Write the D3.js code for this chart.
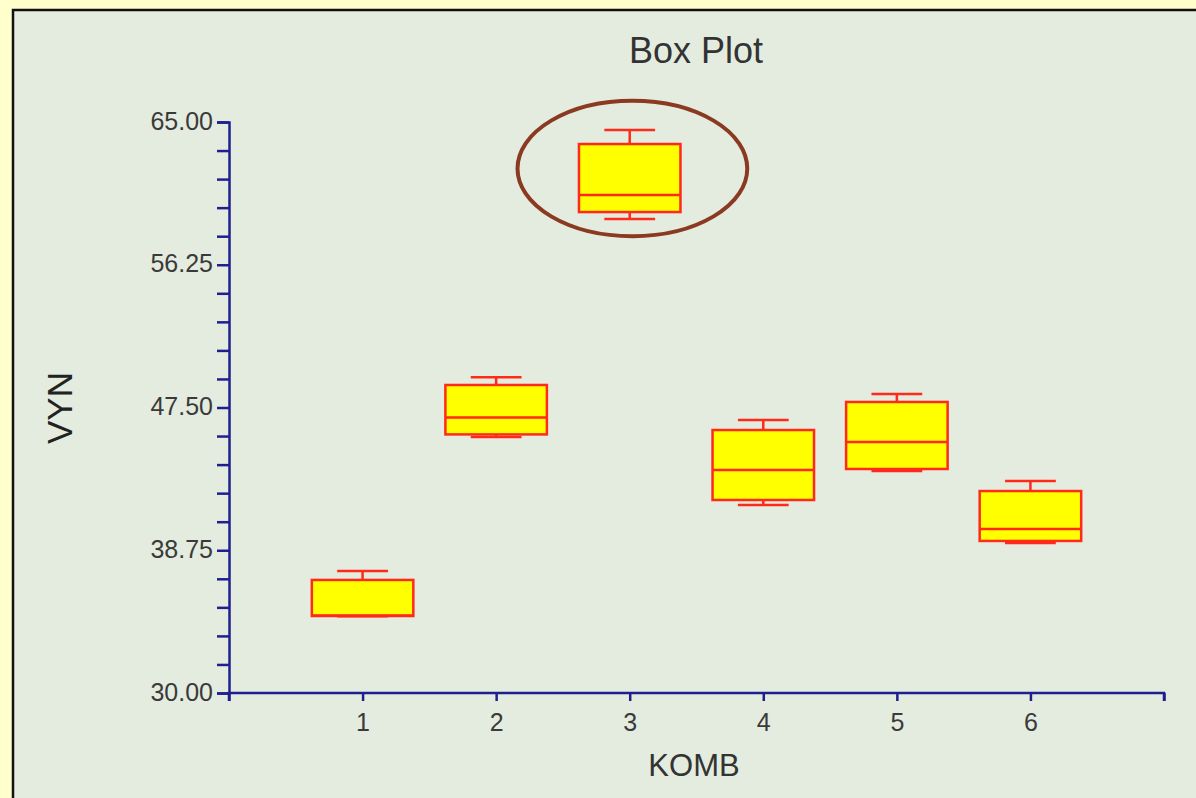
<!DOCTYPE html>
<html>
<head>
<meta charset="utf-8">
<script src="https://cdn.jsdelivr.net/npm/d3@7"></script>
<style>
  body { margin: 0; background: #ffffcc; }
  svg { display: block; }
</style>
</head>
<body>
<div id="chart"></div>
<script>
// data
const groups = [1, 2, 3, 4, 5, 6];
const whiskerHigh = [37.48, 49.35, 64.51, 46.73, 48.33, 43.00];
const q3 = [36.93, 48.88, 63.65, 46.12, 47.84, 42.38];
const median = [34.75, 46.88, 60.53, 43.67, 45.38, 40.05];
const q1 = [34.72, 45.85, 59.48, 41.83, 43.73, 39.32];
const whiskerLow = [34.70, 45.69, 59.05, 41.52, 43.61, 39.19];
const yTicks = [30.00, 38.75, 47.50, 56.25, 65.00];

const data = groups.map((g, i) => ({
  g, hi: whiskerHigh[i], q3: q3[i], med: median[i], q1: q1[i], lo: whiskerLow[i]
}));

const W = 1196, H = 798;
const margin = {top: 122, right: 32, bottom: 105, left: 229};

const svg = d3.select("#chart").append("svg")
    .attr("width", W)
    .attr("height", H);

// panel
svg.append("rect")
    .attr("x", 13).attr("y", 10)
    .attr("width", W).attr("height", H)
    .attr("fill", "#e4ecdf")
    .attr("stroke", "#111")
    .attr("stroke-width", 2.5);

const x = d3.scaleLinear()
    .domain([0, 7])
    .range([margin.left, W - margin.right]);

const y = d3.scaleLinear()
    .domain([30, 65])
    .range([H - margin.bottom, margin.top]);

const axisColor = "#1f1f8f";
const font = "Liberation Sans, Arial, sans-serif";

// y axis with minor ticks
const yAxis = svg.append("g")
    .attr("transform", `translate(${margin.left},0)`)
    .call(d3.axisLeft(y)
        .tickValues(d3.range(30, 65.001, 1.75))
        .tickSize(12)
        .tickPadding(4)
        .tickFormat(d => yTicks.some(t => Math.abs(t - d) < 1e-6) ? d3.format(".2f")(d) : ""));

// x axis
const xAxis = svg.append("g")
    .attr("transform", `translate(0,${H - margin.bottom})`)
    .call(d3.axisBottom(x)
        .tickValues(d3.range(0, 8))
        .tickSize(8)
        .tickPadding(12)
        .tickFormat(d => groups.includes(d) ? d : ""));

[yAxis, xAxis].forEach(a => {
  a.select(".domain").attr("stroke", axisColor).attr("stroke-width", 2.5);
  a.selectAll(".tick line").attr("stroke", axisColor).attr("stroke-width", 2.5);
  a.selectAll("text")
      .attr("fill", "#3a3a3a")
      .style("font-family", font)
      .style("font-size", "25px");
});
yAxis.selectAll("text").attr("dy", "0.28em");
xAxis.select(".domain").attr("d", `M${x(0)},${8}V0H${x(7)}V${8}`);

// boxes
const boxW = x(0.38) - x(0);
const capW = x(0.19) - x(0);
const red = "#ff2a1a";

const box = svg.append("g").selectAll("g")
    .data(data)
    .join("g");

box.append("line")
    .attr("x1", d => x(d.g)).attr("x2", d => x(d.g))
    .attr("y1", d => y(d.hi)).attr("y2", d => y(d.q3))
    .attr("stroke", red).attr("stroke-width", 2.5);
box.append("line")
    .attr("x1", d => x(d.g)).attr("x2", d => x(d.g))
    .attr("y1", d => y(d.q1)).attr("y2", d => y(d.lo))
    .attr("stroke", red).attr("stroke-width", 2.5);
box.append("line")
    .attr("x1", d => x(d.g) - capW).attr("x2", d => x(d.g) + capW)
    .attr("y1", d => y(d.hi)).attr("y2", d => y(d.hi))
    .attr("stroke", red).attr("stroke-width", 2.5);
box.append("line")
    .attr("x1", d => x(d.g) - capW).attr("x2", d => x(d.g) + capW)
    .attr("y1", d => y(d.lo)).attr("y2", d => y(d.lo))
    .attr("stroke", red).attr("stroke-width", 2.5);
box.append("rect")
    .attr("x", d => x(d.g) - boxW)
    .attr("y", d => y(d.q3))
    .attr("width", boxW * 2)
    .attr("height", d => y(d.q1) - y(d.q3))
    .attr("fill", "#ffff00")
    .attr("stroke", red).attr("stroke-width", 2.5);
box.append("line")
    .attr("x1", d => x(d.g) - boxW).attr("x2", d => x(d.g) + boxW)
    .attr("y1", d => y(d.med)).attr("y2", d => y(d.med))
    .attr("stroke", red).attr("stroke-width", 2.5);

// highlight ring around group 3
svg.append("ellipse")
    .attr("cx", x(3.02))
    .attr("cy", y(62.15))
    .attr("rx", x(0.86) - x(0))
    .attr("ry", y(30) - y(34.15))
    .attr("fill", "none")
    .attr("stroke", "#8b3a22")
    .attr("stroke-width", 4);

// titles
svg.append("text")
    .attr("x", 696).attr("y", 63)
    .attr("text-anchor", "middle")
    .attr("fill", "#333")
    .style("font-family", font).style("font-size", "36px")
    .text("Box Plot");
svg.append("text")
    .attr("x", 694).attr("y", 776)
    .attr("text-anchor", "middle")
    .attr("fill", "#333")
    .style("font-family", font).style("font-size", "31px")
    .text("KOMB");
svg.append("text")
    .attr("transform", "translate(72,408) rotate(-90)")
    .attr("text-anchor", "middle")
    .attr("fill", "#222")
    .style("font-family", font).style("font-size", "35px")
    .text("VYN");
</script>
</body>
</html>
